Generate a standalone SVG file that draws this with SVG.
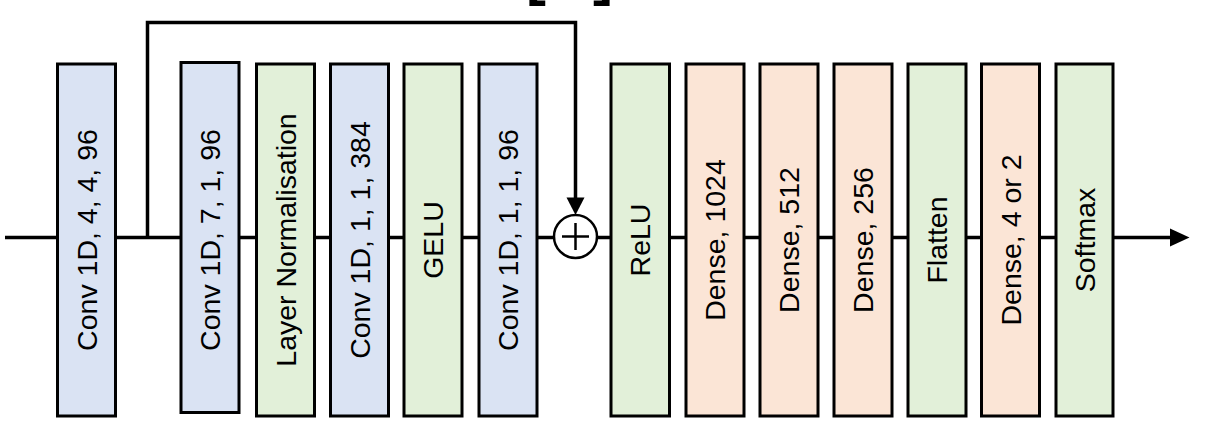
<svg xmlns="http://www.w3.org/2000/svg" width="1230" height="421" viewBox="0 0 1230 421">
  <style>
    .box { stroke: #000; stroke-width: 3; }
    .blue { fill: #dae3f3; }
    .green { fill: #e2f0d9; }
    .orange { fill: #fbe5d6; }
    .lbl { font-family: "Liberation Sans", Arial, sans-serif; font-size: 28.5px; fill: #000; text-anchor: middle; }
    .wire { stroke: #000; stroke-width: 3.5; fill: none; }
    .frag { font-family: "Liberation Sans", Arial, sans-serif; font-weight: bold; font-size: 60px; fill: #000; }
  </style>
  <defs>
    <marker id="arrow" markerUnits="userSpaceOnUse" markerWidth="20" markerHeight="20" viewBox="0 0 20 20" refX="19" refY="10" orient="auto">
      <path d="M0,1 L19,10 L0,19 Z" fill="#000"/>
    </marker>
  </defs>
  <rect width="1230" height="421" fill="#fff"/>

  <g id="title-fragment">
    <text class="frag" x="526" y="-6.5">[</text>
    <text class="frag" x="593" y="-6.5">]</text>
  </g>

  <g id="connectors">
    <line class="wire" x1="5" y1="237.5" x2="57.5" y2="237.5"/>
    <line class="wire" x1="115.5" y1="237.5" x2="181" y2="237.5"/>
    <polyline class="wire" points="147.5,237.5 147.5,22.5 575.5,22.5 575.5,198" />
    <path d="M566.5,197.5 L584.5,197.5 L575.5,215 Z" fill="#000"/>
    <line class="wire" x1="239" y1="237.5" x2="256.5" y2="237.5"/>
    <line class="wire" x1="314.5" y1="237.5" x2="330.5" y2="237.5"/>
    <line class="wire" x1="388.5" y1="237.5" x2="404" y2="237.5"/>
    <line class="wire" x1="462" y1="237.5" x2="479" y2="237.5"/>
    <line class="wire" x1="537" y1="237.5" x2="554" y2="237.5"/>
    <line class="wire" x1="597" y1="237.5" x2="611" y2="237.5"/>
    <line class="wire" x1="669.5" y1="237.5" x2="686" y2="237.5"/>
    <line class="wire" x1="744" y1="237.5" x2="760" y2="237.5"/>
    <line class="wire" x1="818" y1="237.5" x2="834" y2="237.5"/>
    <line class="wire" x1="892" y1="237.5" x2="908" y2="237.5"/>
    <line class="wire" x1="966" y1="237.5" x2="981.5" y2="237.5"/>
    <line class="wire" x1="1039.5" y1="237.5" x2="1056" y2="237.5"/>
    <line class="wire" x1="1113" y1="237.5" x2="1172" y2="237.5"/>
    <path d="M1170,228.5 L1189.5,237.5 L1170,246.5 Z" fill="#000"/>
  </g>

  <g id="add">
    <circle cx="575.5" cy="236.5" r="21.5" fill="#fff" stroke="#000" stroke-width="2.5"/>
    <line x1="562" y1="236.5" x2="589" y2="236.5" stroke="#000" stroke-width="2.5"/>
    <line x1="575.5" y1="223" x2="575.5" y2="250" stroke="#000" stroke-width="2.5"/>
  </g>

  <g id="conv1">
    <rect class="box blue" x="57.5" y="64" width="58" height="352"/>
    <text class="lbl" transform="translate(96.7,240) rotate(-90)">Conv 1D, 4, 4, 96</text>
  </g>
  <g id="conv2">
    <rect class="box blue" x="181" y="62.5" width="58" height="350"/>
    <text class="lbl" transform="translate(220.2,240) rotate(-90)">Conv 1D, 7, 1, 96</text>
  </g>
  <g id="layernorm">
    <rect class="box green" x="256.5" y="64" width="58" height="352"/>
    <text class="lbl" transform="translate(295.7,240) rotate(-90)">Layer Normalisation</text>
  </g>
  <g id="conv3">
    <rect class="box blue" x="330.5" y="64" width="58" height="352"/>
    <text class="lbl" transform="translate(369.7,240) rotate(-90)">Conv 1D, 1, 1, 384</text>
  </g>
  <g id="gelu">
    <rect class="box green" x="404" y="64" width="58" height="352"/>
    <text class="lbl" transform="translate(443.2,240) rotate(-90)">GELU</text>
  </g>
  <g id="conv4">
    <rect class="box blue" x="479" y="64" width="58" height="352"/>
    <text class="lbl" transform="translate(518.2,240) rotate(-90)">Conv 1D, 1, 1, 96</text>
  </g>
  <g id="relu">
    <rect class="box green" x="611" y="64" width="58.5" height="352"/>
    <text class="lbl" transform="translate(650.4,240) rotate(-90)">ReLU</text>
  </g>
  <g id="dense1024">
    <rect class="box orange" x="686" y="64" width="58" height="352"/>
    <text class="lbl" transform="translate(725.2,240) rotate(-90)">Dense, 1024</text>
  </g>
  <g id="dense512">
    <rect class="box orange" x="760" y="64" width="58" height="352"/>
    <text class="lbl" transform="translate(799.2,240) rotate(-90)">Dense, 512</text>
  </g>
  <g id="dense256">
    <rect class="box orange" x="834" y="64" width="58" height="352"/>
    <text class="lbl" transform="translate(873.2,240) rotate(-90)">Dense, 256</text>
  </g>
  <g id="flatten">
    <rect class="box green" x="908" y="64" width="58" height="352"/>
    <text class="lbl" transform="translate(947.2,240) rotate(-90)">Flatten</text>
  </g>
  <g id="dense-out">
    <rect class="box orange" x="981.5" y="64" width="58" height="352"/>
    <text class="lbl" transform="translate(1020.7,240) rotate(-90)">Dense, 4 or 2</text>
  </g>
  <g id="softmax">
    <rect class="box green" x="1056" y="64" width="57" height="352"/>
    <text class="lbl" transform="translate(1094.7,240) rotate(-90)">Softmax</text>
  </g>
</svg>
